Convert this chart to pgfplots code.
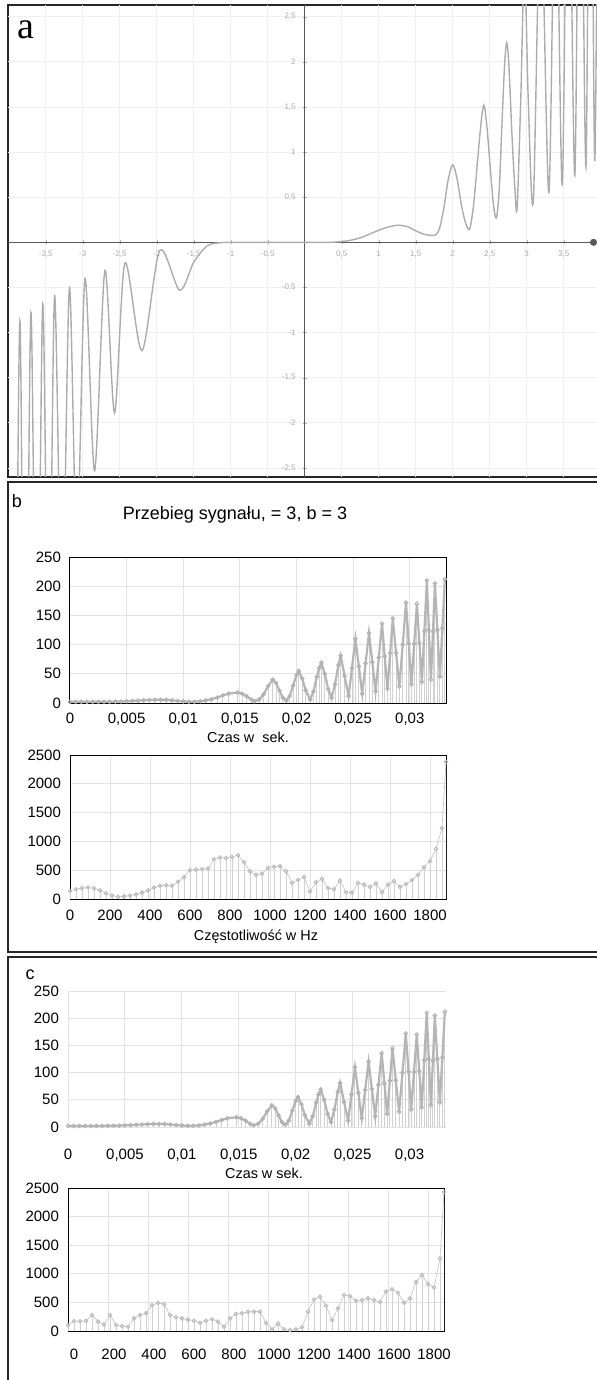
\documentclass[border=0pt]{standalone}
\usepackage{fontspec}
\setmainfont{Liberation Sans}
\newfontfamily\serifa{Liberation Serif}
\usepackage{pgfplots}
\pgfplotsset{compat=1.18}
\usepackage{pgfplotstable}
\usetikzlibrary{arrows.meta}

% function graph (panel a): x, y
\pgfplotstableread{
x y
-4.02 -5.5
-3.93 -7.0
-3.85 -0.87
-3.78 -6.3
-3.70 -0.78
-3.62 -5.6
-3.54 -0.68
-3.46 -4.9
-3.38 -0.59
-3.28 -4.2
-3.18 -0.50
-3.08 -3.4
-2.97 -0.40
-2.84 -2.53
-2.70 -0.31
-2.57 -1.89
-2.43 -0.23
-2.20 -1.20
-1.96 -0.09
-1.69 -0.53
-1.50 -0.22
-1.32 -0.04
-1.15 -0.005
-0.90 0
0 0
0.30 0
0.45 0.005
0.60 0.02
0.75 0.05
0.90 0.10
1.05 0.15
1.18 0.18
1.28 0.19
1.40 0.17
1.52 0.12
1.64 0.085
1.76 0.08
1.82 0.15
1.88 0.38
1.94 0.70
2.00 0.86
2.06 0.70
2.12 0.40
2.18 0.20
2.23 0.15
2.28 0.40
2.33 0.85
2.38 1.30
2.42 1.52
2.46 1.30
2.51 0.80
2.55 0.42
2.59 0.27
2.63 0.60
2.66 1.20
2.70 1.95
2.73 2.21
2.76 1.95
2.80 1.20
2.84 0.60
2.87 0.38
2.92 1.60
2.97 3.10
3.02 1.60
3.09 0.47
3.19 3.80
3.30 0.55
3.39 4.50
3.48 0.64
3.56 5.20
3.65 0.74
3.72 5.90
3.80 0.83
3.86 6.50
3.92 0.90
3.98 7.00
}\funkcja

% sampled signal: time in s, value
\pgfplotstableread{
t v
0 2
0.0005 2
0.001 2
0.0015 2
0.002 2
0.0025 2
0.003 2.1
0.0035 2.2
0.004 2.4
0.0045 2.6
0.005 3.0
0.0055 3.5
0.006 4.1
0.0065 4.7
0.007 5.2
0.0075 5.5
0.008 5.6
0.0085 5.3
0.009 4.6
0.0095 3.6
0.010 2.8
0.0105 2.3
0.011 2.3
0.0115 3.0
0.012 4.5
0.0125 6.5
0.013 9.5
0.0135 13.0
0.014 16.0
0.0148 18.0
0.0152 16.0
0.0156 11.5
0.0160 6.0
0.0163 3.0
0.0167 6.0
0.0171 15.0
0.0175 29.0
0.0179 40.0
0.0182 34.0
0.0185 21.0
0.0188 9.0
0.0191 4.0
0.0194 12.0
0.0197 30.0
0.0200 48.0
0.0202 55.0
0.0205 42.0
0.0208 22.0
0.0212 6.0
0.0215 20.0
0.0218 45.0
0.0220 60.0
0.0222 69.0
0.0225 50.0
0.0228 24.0
0.0231 9.0
0.0234 32.0
0.0237 65.0
0.0239 81.0
0.02425 46.0
0.0246 12.0
0.0249 60.0
0.0252 110.0
0.0255 63.0
0.0258 16.0
0.0261 68.0
0.0264 120.0
0.02669 70.0
0.02698 20.0
0.02727 78.0
0.02755 136.0
0.02779 80.0
0.02803 24.0
0.02827 85.0
0.0285 145.0
0.02879 86.0
0.02908 28.0
0.02938 100.0
0.02967 172.0
0.02991 102.0
0.03015 32.0
0.03039 101.0
0.03063 170.0
0.03085 103.0
0.03107 36.0
0.03129 123.0
0.03151 210.0
0.03169 125.0
0.03187 40.0
0.03205 122.0
0.03222 205.0
0.03244 125.0
0.03266 45.0
0.03288 128.0
0.0331 212.0
}\sygnal

% spectrum, variant b: frequency in Hz, magnitude
\pgfplotstableread{
f m
0 140
30 170
60 190
90 200
120 185
150 150
180 100
210 60
240 40
270 45
300 60
330 80
360 110
390 150
420 200
450 230
480 240
510 230
540 300
570 380
600 500
630 510
660 520
690 530
720 690
750 720
780 710
810 730
840 760
870 640
900 480
930 420
960 440
990 540
1020 560
1050 570
1080 480
1110 280
1140 330
1170 380
1200 130
1230 290
1260 350
1290 190
1320 170
1350 320
1380 120
1410 110
1440 280
1470 250
1500 210
1530 270
1560 120
1590 250
1620 310
1650 210
1680 260
1710 330
1740 420
1770 550
1800 660
1830 870
1860 1230
1880 2380
}\widmoB

% spectrum, variant c
\pgfplotstableread{
f m
0 100
30 175
60 170
90 180
120 280
150 165
180 115
210 280
240 105
270 85
300 75
330 220
360 280
390 310
420 450
450 490
480 470
510 280
540 240
570 220
600 200
630 180
660 145
690 180
720 205
750 165
780 75
810 220
840 300
870 310
900 335
930 340
960 340
990 145
1020 30
1050 130
1080 30
1110 15
1140 30
1170 65
1200 340
1230 550
1260 600
1290 440
1320 190
1350 395
1380 630
1410 610
1440 530
1470 540
1500 570
1530 540
1560 510
1590 690
1620 730
1650 670
1680 495
1710 570
1740 860
1770 980
1800 820
1830 760
1860 1270
1880 2430
}\widmoC

\pgfplotsset{
  excel/.style={
    scale only axis, anchor=south west,
    /pgf/number format/assume math mode=true,
    /pgf/number format/1000 sep={},
    scaled x ticks=false, scaled y ticks=false,
    ymin=0,
    grid=major,
    major grid style={gray!22, line width=0.5pt},
    major tick length=0pt,
    axis line style={black, line width=0.5pt},
    ticklabel style={font=\fontsize{7.5}{8}\selectfont, text=black},
    yticklabel style={xshift=-1pt},
  },
  czas/.style={
    excel, xmin=0, xmax=0.0332, ymax=250,
    ytick={0,50,100,150,200,250},
    xtick={0,0.005,0.01,0.015,0.02,0.025,0.03},
    xticklabels={0,{0,005},{0,01},{0,015},{0,02},{0,025},{0,03}},
  },
  widmo/.style={
    excel, xmin=0, xmax=1880, ymax=2500,
    ytick={0,500,1000,1500,2000,2500},
    xtick={0,200,...,1800},
  },
  stem/.style={ycomb, gray!36, line width=0.45pt, forget plot},
  linia/.style={gray!58, line width=1.1pt, mark=o, mark size=0.9pt,
    mark options={gray!60, line width=0.45pt}},
  punkty/.style={gray!42, line width=0.35pt, mark=o, mark size=0.9pt,
    mark options={gray!55, line width=0.45pt}},
}

\begin{document}
\begin{tikzpicture}
\useasboundingbox (0,0) rectangle (298.5pt,-690pt);

% panel frames
\begin{scope}[line width=0.9pt, black!85]
  \draw (300pt,-2.5pt) -- (4pt,-2.5pt) -- (4pt,-238.5pt) -- (300pt,-238.5pt);
  \draw (300pt,-241pt) -- (4pt,-241pt) -- (4pt,-476pt) -- (300pt,-476pt);
  \draw (300pt,-478.5pt) -- (4pt,-478.5pt) -- (4pt,-700pt);
\end{scope}

% ---------- panel a ----------
\begin{axis}[
  at={(4pt,-238.5pt)}, anchor=south west,
  scale only axis, width=294.5pt, height=236pt,
  xmin=-4.01, xmax=3.95, ymin=-2.6, ymax=2.63,
  axis lines=middle,
  axis line style={-, black!65, line width=0.6pt},
  x axis line style={-{Circle[length=3.5pt]}},
  xtick={-3.5,-3,-2.5,-2,-1.5,-1,-0.5,0.5,1,1.5,2,2.5,3,3.5},
  ytick={-2.5,-2,-1.5,-1,-0.5,0.5,1,1.5,2,2.5},
  grid=major, major grid style={gray!12, line width=0.4pt},
  major tick length=2pt, tick style={gray!60},
  ticklabel style={font=\fontsize{4}{4}\selectfont, text=gray!65},
  /pgf/number format/assume math mode=true,
  /pgf/number format/use comma,
]
\addplot[smooth, gray!65, line width=0.7pt] table {\funkcja};
\end{axis}
\node[font=\serifa\fontsize{19}{19}\selectfont] at (13pt,-15pt) {a};

% ---------- panel b ----------
\node[font=\fontsize{9}{9}\selectfont] at (8.5pt,-250.5pt) {b};
\node[font=\fontsize{9}{9}\selectfont] at (117.5pt,-257.5pt) {Przebieg sygnału, = 3, b = 3};

\begin{axis}[czas, at={(35pt,-351.5pt)}, width=188pt, height=73pt,
  xticklabel style={yshift=-1.5pt}]
\addplot[stem] table {\sygnal};
\addplot[linia] table {\sygnal};
\end{axis}
\node[font=\fontsize{7.2}{8}\selectfont] at (124pt,-368.5pt) {Czas w\ \ sek.};

\begin{axis}[widmo, at={(35pt,-449.5pt)}, width=188pt, height=72pt,
  xticklabel style={yshift=-2pt}]
\addplot[stem] table {\widmoB};
\addplot[punkty] table {\widmoB};
\end{axis}
\node[font=\fontsize{7.2}{8}\selectfont] at (128pt,-468.5pt) {Częstotliwość w Hz};

% ---------- panel c ----------
\node[font=\fontsize{9}{9}\selectfont] at (15pt,-487.5pt) {c};

\begin{axis}[czas, at={(34pt,-563.5pt)}, width=189pt, height=68pt,
  axis line style={draw=none},
  xticklabel style={yshift=-7.5pt}]
\addplot[stem] table {\sygnal};
\addplot[linia] table {\sygnal};
\end{axis}
\node[font=\fontsize{7.2}{8}\selectfont] at (132pt,-586.5pt) {Czas w sek.};

\begin{axis}[widmo, at={(34pt,-665.5pt)}, width=188pt, height=71.5pt,
  xticklabel style={yshift=-5.5pt, xshift=3pt}]
\addplot[stem] table {\widmoC};
\addplot[punkty] table {\widmoC};
\end{axis}
\end{tikzpicture}
\end{document}
